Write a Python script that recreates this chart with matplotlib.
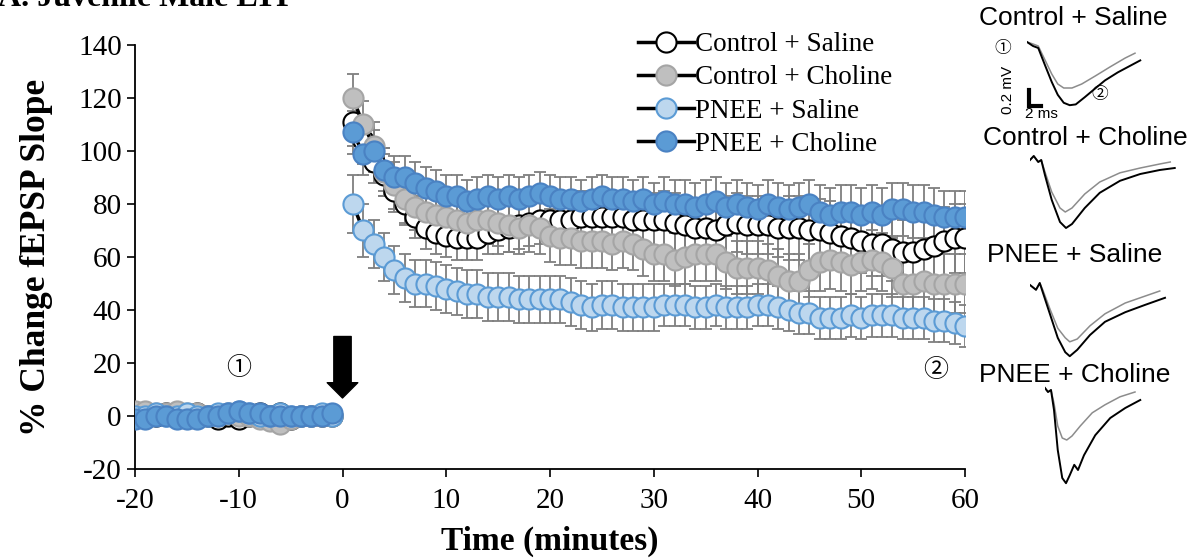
import matplotlib.pyplot as plt

# ---- data ----
base_time = list(range(-20, 0))
post_time = list(range(1, 61))

series_names = ['Control + Saline', 'Control + Choline', 'PNEE + Saline', 'PNEE + Choline']

# baseline (-20 .. -1 min)
base_ctrl_sal = [0, 1, 0, 1, 0, 0, 1, 0, -1, 0, -1, 0, 1, 0, 1, -1, 0, 0, 0, 0]
base_ctrl_cho = [2, 2, 1, 1, 2, 1, 1, 0, 0, 1, 0, 0, -1, -2, -3, -1, 0, 0, 0, 0]
base_pnee_sal = [0, 0, 1, 0, 0, 1, 0, 0, 1, 1, 2, 1, 0, 0, 1, 0, 0, 0, 1, 0]
base_pnee_cho = [-1, -1, 0, 0, -1, -1, -1, 0, 0, 1, 2, 1, 1, 0, 0, 0, 0, 0, 0, 1]
base_sem = [1.5] * 20

# post-stimulation (1 .. 60 min)
post_ctrl_sal = [111, 104, 96, 91, 85, 80, 75, 71, 69, 68, 67, 67, 67, 69, 70, 71, 72, 73, 74, 74,
                 74, 74, 75, 75, 75, 75, 75, 74, 74, 74, 74, 73, 72, 71, 71, 70, 72, 73, 72, 72,
                 72, 71, 71, 71, 70, 70, 69, 68, 67, 66, 65, 65, 63, 62, 62, 63, 64, 66, 67, 67]
post_ctrl_cho = [120, 110, 102, 92, 87, 82, 79, 77, 76, 75, 74, 73, 74, 74, 73, 72, 71, 72, 71, 68,
                 67, 67, 66, 66, 66, 65, 66, 65, 63, 61, 61, 59, 60, 61, 61, 61, 58, 56, 56, 56,
                 55, 53, 51, 51, 55, 58, 59, 58, 57, 58, 59, 58, 56, 50, 50, 51, 50, 50, 50, 50]
post_pnee_sal = [80, 70, 65, 60, 55, 52, 50, 50, 49, 48, 47, 46, 46, 45, 45, 45, 44, 44, 44, 44,
                 44, 43, 42, 41, 42, 42, 41, 41, 41, 41, 42, 42, 42, 41, 41, 42, 41, 41, 41, 42,
                 42, 41, 40, 39, 39, 37, 37, 37, 38, 37, 38, 38, 38, 37, 37, 37, 36, 36, 35, 34]
post_pnee_cho = [107, 99, 100, 93, 90, 90, 88, 86, 85, 83, 83, 81, 82, 83, 82, 83, 82, 83, 84, 83,
                 82, 82, 81, 82, 83, 82, 82, 81, 82, 80, 81, 80, 80, 79, 80, 81, 79, 80, 79, 78,
                 80, 79, 78, 79, 80, 77, 76, 77, 77, 76, 77, 76, 78, 78, 77, 77, 76, 75, 75, 75]

sem_ctrl_sal = [9, 9, 8, 8, 8, 8, 8, 8, 8, 8, 8, 8, 8, 8, 9, 9, 9, 9, 9, 9,
                10, 10, 10, 10, 10, 10, 10, 10, 10, 10, 11, 11, 11, 11, 11, 11, 11, 11, 11, 11,
                11, 11, 12, 12, 12, 12, 12, 12, 12, 12, 12, 12, 12, 12, 12, 13, 13, 13, 13, 13]
sem_ctrl_cho = [9, 9, 9, 9, 9, 9, 9, 9, 9, 9, 9, 9, 9, 9, 9, 10, 10, 10, 10, 10,
                10, 10, 10, 10, 10, 10, 10, 10, 10, 10, 10, 10, 10, 10, 10, 10, 10, 10, 10, 10,
                10, 10, 10, 10, 10, 11, 11, 11, 11, 11, 11, 11, 11, 11, 11, 11, 11, 11, 11, 11]
sem_pnee_sal = [11, 10, 9, 9, 9, 9, 9, 9, 9, 9, 9, 9, 9, 9, 9, 9, 9, 9, 9, 9,
                9, 9, 9, 9, 9, 9, 9, 9, 9, 9, 8, 8, 8, 8, 8, 8, 8, 8, 8, 8,
                8, 8, 8, 8, 8, 8, 8, 8, 8, 8, 8, 8, 8, 8, 8, 8, 8, 8, 8, 8]
sem_pnee_cho = [8, 8, 8, 8, 8, 8, 8, 8, 8, 8, 8, 8, 8, 8, 8, 8, 8, 8, 8, 8,
                8, 8, 8, 8, 8, 8, 8, 8, 8, 8, 9, 9, 9, 9, 9, 9, 9, 9, 9, 9,
                9, 9, 9, 9, 9, 10, 10, 10, 10, 10, 10, 10, 10, 10, 10, 10, 10, 10, 10, 10]

base_means = [base_ctrl_sal, base_ctrl_cho, base_pnee_sal, base_pnee_cho]
post_means = [post_ctrl_sal, post_ctrl_cho, post_pnee_sal, post_pnee_cho]
post_sems = [sem_ctrl_sal, sem_ctrl_cho, sem_pnee_sal, sem_pnee_cho]

face_colors = ['white', '#bfbfbf', '#bdd7ee', '#5b9bd5']
edge_colors = ['black', '#a5a5a5', '#5b9bd5', '#4a82c3']

# example fEPSP traces: time (ms), black = after LTP (2), grey = baseline (1)
tr1_t_black = [0, 0.8, 1.5, 2.4, 3.3, 4.1, 4.9, 5.7, 6.5, 7.7, 9.1, 10.4, 12.1, 13.7, 15.1]
tr1_v_black = [0, -0.05, -0.075, -0.29, -0.5, -0.66, -0.76, -0.79, -0.78, -0.69, -0.58, -0.48, -0.38, -0.3, -0.23]
tr1_t_grey = [0, 0.8, 1.5, 2.4, 3.3, 4.1, 4.9, 6.0, 7.3, 9.1, 11.1, 13.1, 14.4]
tr1_v_grey = [0, -0.025, -0.05, -0.225, -0.4, -0.525, -0.575, -0.575, -0.525, -0.425, -0.31, -0.2, -0.14]

tr2_t_black = [0, 0.5, 1.1, 1.5, 2.0, 2.9, 4.0, 4.8, 5.6, 7.3, 9.3, 12.0, 14.7, 17.3, 19.3]
tr2_v_black = [0, 0.05, -0.025, 0, -0.19, -0.5, -0.775, -0.85, -0.8, -0.6, -0.41, -0.26, -0.175, -0.125, -0.1]
tr2_t_grey = [0, 0.5, 1.1, 1.5, 2.0, 2.9, 4.0, 4.7, 5.6, 7.3, 9.3, 12.0, 14.7, 17.3, 18.7]
tr2_v_grey = [0, 0.05, -0.025, 0, -0.15, -0.4, -0.6, -0.65, -0.6, -0.425, -0.275, -0.16, -0.1, -0.05, -0.025]

tr3_t_black = [0, 0.8, 1.3, 1.7, 2.7, 3.7, 4.7, 5.3, 6.3, 8.0, 10.0, 12.7, 15.3, 18.0]
tr3_v_black = [0, -0.06, 0.025, -0.09, -0.375, -0.66, -0.84, -0.89, -0.81, -0.625, -0.46, -0.34, -0.25, -0.16]
tr3_t_grey = [0, 0.8, 1.3, 1.7, 2.7, 3.7, 4.7, 5.3, 6.3, 8.0, 10.0, 12.7, 15.3, 17.3]
tr3_v_grey = [0, -0.06, 0.025, -0.06, -0.31, -0.54, -0.66, -0.71, -0.675, -0.51, -0.36, -0.225, -0.14, -0.075]

tr4_t_black = [0, 0.4, 0.8, 1.2, 1.7, 2.3, 2.8, 3.3, 3.9, 4.4, 5.2, 6.7, 8.7, 10.7, 12.7]
tr4_v_black = [0, -0.05, -0.025, -0.275, -0.775, -1.125, -1.19, -1.09, -0.96, -1.025, -0.84, -0.59, -0.375, -0.25, -0.15]
tr4_t_grey = [0, 0.4, 0.8, 1.2, 1.7, 2.3, 2.9, 3.6, 4.7, 6.3, 8.0, 10.0, 12.0]
tr4_v_grey = [0, -0.05, -0.025, -0.19, -0.475, -0.625, -0.65, -0.6, -0.475, -0.31, -0.21, -0.11, -0.05]

# ---- figure ----
plt.rcParams['font.family'] = 'Liberation Serif'
plt.rcParams['axes.unicode_minus'] = False
W, H = 1198, 558
fig = plt.figure(figsize=(W / 100, H / 100), dpi=100)
ax = fig.add_axes([135 / W, 1 - 469 / H, 830 / W, 424 / H])

# error bars first so they sit behind every marker
for i in range(4):
    ax.errorbar(base_time, base_means[i], yerr=base_sem, fmt='none', ecolor='#7f7f7f',
                elinewidth=1.3, capsize=4.5, capthick=1.3, zorder=1)
    ax.errorbar(post_time, post_means[i], yerr=post_sems[i], fmt='none', ecolor='#7f7f7f',
                elinewidth=1.3, capsize=4.5, capthick=1.3, zorder=1)

handles = []
for i in range(4):
    style = dict(color='black', lw=2.5, marker='o', ms=14.5, mfc=face_colors[i],
                 mec=edge_colors[i], mew=1.5, zorder=2 + i)
    ax.plot(base_time, base_means[i], **style)
    h, = ax.plot(post_time, post_means[i], label=series_names[i], **style)
    handles.append(h)

ax.set_xlim(-20, 60)
ax.set_ylim(-20, 140)
ax.set_xticks(range(-20, 61, 10))
ax.set_yticks(range(-20, 141, 20))
ax.tick_params(direction='out', length=6, width=1.2, labelsize=21)
ax.tick_params(axis='x', pad=8)
for s in ['top', 'right']:
    ax.spines[s].set_visible(False)
for s in ['left', 'bottom']:
    ax.spines[s].set_linewidth(1.3)
ax.set_xlabel('Time (minutes)', fontsize=24, fontweight='bold', labelpad=8)
ax.set_ylabel('% Change fEPSP Slope', fontsize=25.5, fontweight='bold', labelpad=18)

leg = ax.legend(handles=handles, loc='upper left', bbox_to_anchor=(0.606, 1.03), frameon=False,
                fontsize=19.5, handlelength=2.05, handletextpad=0.05, labelspacing=0.3,
                borderpad=0, borderaxespad=0)

# stimulation arrow at t = 0
ax.annotate('', xy=(0, 6.8), xytext=(0, 30),
            arrowprops=dict(facecolor='black', edgecolor='black', width=12.5,
                            headwidth=22, headlength=11, shrink=0))

circ_font = ['Noto Sans CJK JP', 'DejaVu Sans']
ax.text(-10, 18, '①', fontsize=18, family=circ_font, ha='center', va='center')
ax.text(57.2, 17.5, '②', fontsize=18, family=circ_font, ha='center', va='center')

# title (cut off at the top edge in the original)
fig.text(-0.002, 1 - 6 / H, 'A. Juvenile Male LTP', fontsize=23, fontweight='bold',
         ha='left', va='baseline')

# ---- trace insets ----
px_ms, px_mv = 7.5, 80.0
inset_w, inset_h = 22 * px_ms, 1.4 * px_mv


def add_trace(ox, oy, t_b, v_b, t_g, v_g):
    a = fig.add_axes([ox / W, 1 - (oy - 0.1 * px_mv + inset_h) / H, inset_w / W, inset_h / H])
    a.plot(t_g, v_g, color='#8c8c8c', lw=1.1)
    a.plot(t_b, v_b, color='black', lw=1.4)
    a.set_xlim(0, 22)
    a.set_ylim(-1.3, 0.1)
    a.axis('off')
    return a


a1 = add_trace(1027, 42, tr1_t_black, tr1_v_black, tr1_t_grey, tr1_v_grey)
add_trace(1030, 160, tr2_t_black, tr2_v_black, tr2_t_grey, tr2_v_grey)
add_trace(1030, 285, tr3_t_black, tr3_v_black, tr3_t_grey, tr3_v_grey)
add_trace(1045, 388, tr4_t_black, tr4_v_black, tr4_t_grey, tr4_v_grey)

# scale bar: 0.2 mV / 2 ms
a1.plot([0.3, 0.3, 1.9], [-0.6, -0.8, -0.8], color='black', lw=3, solid_joinstyle='miter',
        clip_on=False)

sans = 'Liberation Sans'
trace_titles = ['Control + Saline', 'Control + Choline', 'PNEE + Saline', 'PNEE + Choline']
title_xy = [(1073, 18), (1085, 138), (1075, 255), (1075, 375)]
for txt, (x, y) in zip(trace_titles, title_xy):
    fig.text(x / W, 1 - y / H, txt, family=sans, fontsize=19, ha='center', va='center')

fig.text(1008 / W, 1 - 90 / H, '0.2 mV', family=sans, fontsize=11, rotation=90,
         ha='center', va='center')
fig.text(1041 / W, 1 - 114 / H, '2 ms', family=sans, fontsize=11, ha='center', va='center')
fig.text(1003 / W, 1 - 48 / H, '①', family=circ_font, fontsize=12, ha='center', va='center')
fig.text(1100 / W, 1 - 95 / H, '②', family=circ_font, fontsize=12, ha='center', va='center')

fig.savefig('out.png', dpi=100)
